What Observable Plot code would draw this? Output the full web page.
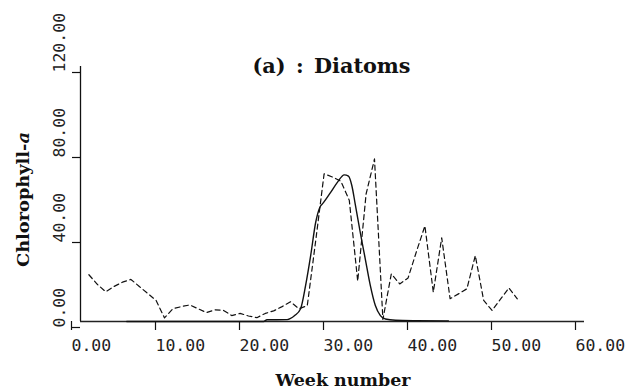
<!DOCTYPE html>
<html>
<head>
<meta charset="utf-8">
<script src="https://cdn.jsdelivr.net/npm/d3@7"></script>
<script src="https://cdn.jsdelivr.net/npm/@observablehq/plot@0.6"></script>
<style>
  html, body { margin: 0; padding: 0; background: #fff; }
</style>
</head>
<body>
<div id="chart"></div>
<script>
// Axis ticks
const xTicks = [0, 10, 20, 30, 40, 50, 60];
const yTicks = [0, 40, 80, 120];

// Observed chlorophyll-a, one sample per week (dashed line)
const obsWeek = [1, 2, 3, 4, 5, 6, 7, 8, 9, 10, 11, 12, 13, 14, 15, 16, 17, 18, 19, 20,
  21, 22, 23, 24, 25, 26, 27, 28, 29, 30, 31, 32, 33, 34, 35, 36, 37, 38, 39, 40,
  41, 42, 43, 44, 45, 46, 47, 48, 49, 50, 51, 52];
const obsValue = [22, 17.5, 14, 16.5, 18.5, 19.8, 16.5, 13.2, 9.9, 1.7, 6, 7, 7.8, 6, 4.2, 5.5, 5.3, 2.8, 3.8, 2.6,
  1.8, 3.8, 5, 7, 9.3, 6, 7.5, 38, 69.5, 68, 66, 57, 19, 60, 76.5, 1, 22.4, 17.7, 20.5, 33,
  45, 13.8, 39.4, 10.7, 13, 15.4, 31, 9.9, 5.2, 10.5, 15.8, 10.7];

// Simulated diatom chlorophyll-a (solid line)
const simWeek = [5.5, 10, 15, 20, 21.8, 22.2, 24.6, 25.5, 26.2, 26.8, 27.4, 28.0, 28.5, 28.9,
  29.8, 30.6, 31.4, 31.9, 32.3, 32.7, 33.3, 33.9, 34.5, 35.1, 35.7, 36.3, 37.5, 40, 43.8];
const simValue = [0, 0, 0, 0, 0, 0.8, 0.9, 2.8, 6, 17, 31, 46.7, 53.8, 55.8,
  60.9, 65.6, 69, 68.4, 64, 55.4, 42, 29.5, 17, 7.5, 2.8, 1.2, 0.6, 0.4, 0.3];

const observed = obsWeek.map((w, i) => ({week: w, value: obsValue[i]}));
const simulated = simWeek.map((w, i) => ({week: w, value: simValue[i]}));

const tickFont = "DejaVu Sans Mono, monospace";
const labelFont = "DejaVu Serif, serif";
const fmt = d => d.toFixed(2);

const chart = Plot.plot({
  width: 627,
  height: 389,
  marginLeft: 80,
  marginRight: 43,
  marginTop: 66,
  marginBottom: 68,
  style: {background: "#fff", color: "#111", overflow: "visible"},
  x: {domain: [0, 60]},
  y: {domain: [0, 120]},
  marks: [
    Plot.axisX({
      ticks: xTicks, tickFormat: fmt, tickSize: 9, tickPadding: 9,
      textAnchor: "start", dx: -9, label: null,
      fontFamily: tickFont, fontSize: 16.5, fill: "#222", strokeWidth: 1.2
    }),
    Plot.axisY({
      ticks: yTicks, tickFormat: fmt, tickSize: 8, tickPadding: 8,
      tickRotate: -90, textAnchor: "start", lineAnchor: "bottom", dy: 6, label: null,
      fontFamily: tickFont, fontSize: 16.5, fill: "#222", strokeWidth: 1.2
    }),
    Plot.ruleX([0], {stroke: "#111", strokeWidth: 1.3}),
    Plot.ruleY([0], {stroke: "#222", strokeWidth: 1.3}),
    Plot.line(simulated, {x: "week", y: "value", curve: "monotone-x", stroke: "#111", strokeWidth: 1.4}),
    Plot.line(observed, {x: "week", y: "value", stroke: "#111", strokeWidth: 1.2, strokeDasharray: "5,3.5"}),
    Plot.text(["(a)\u2002:\u2002Diatoms"], {
      frameAnchor: "top", dx: -1, dy: 6, lineAnchor: "bottom", textAnchor: "middle",
      fontFamily: labelFont, fontWeight: "bold", fontSize: 21, fill: "#111"
    }),
    Plot.text(["Week number"], {
      frameAnchor: "bottom", dx: 10.5, dy: 64, lineAnchor: "bottom", textAnchor: "middle",
      fontFamily: labelFont, fontWeight: "bold", fontSize: 17.4, fill: "#111"
    }),
    Plot.text(["Chlorophyll-a"], {
      frameAnchor: "left", dx: -52, dy: 5.5, rotate: -90, lineAnchor: "bottom", textAnchor: "middle",
      fontFamily: labelFont, fontWeight: "bold", fontSize: 17, fill: "#111"
    })
  ]
});

// Label widths follow the wide bold serif lettering of the original figure
const labelLengths = {"Week number": 135, "Chlorophyll-a": 135, "(a)\u2002:\u2002Diatoms": 158};
d3.select(chart).selectAll("text").each(function() {
  const s = this.textContent;
  if (!(s in labelLengths)) return;
  const t = d3.select(this)
    .attr("textLength", labelLengths[s])
    .attr("lengthAdjust", "spacingAndGlyphs");
  if (s === "Chlorophyll-a") {
    // italic "a" as in the printed symbol
    t.text(null);
    t.append("tspan").text("Chlorophyll-");
    t.append("tspan").attr("font-style", "italic").text("a");
  }
});

document.getElementById("chart").appendChild(chart);
</script>
</body>
</html>
